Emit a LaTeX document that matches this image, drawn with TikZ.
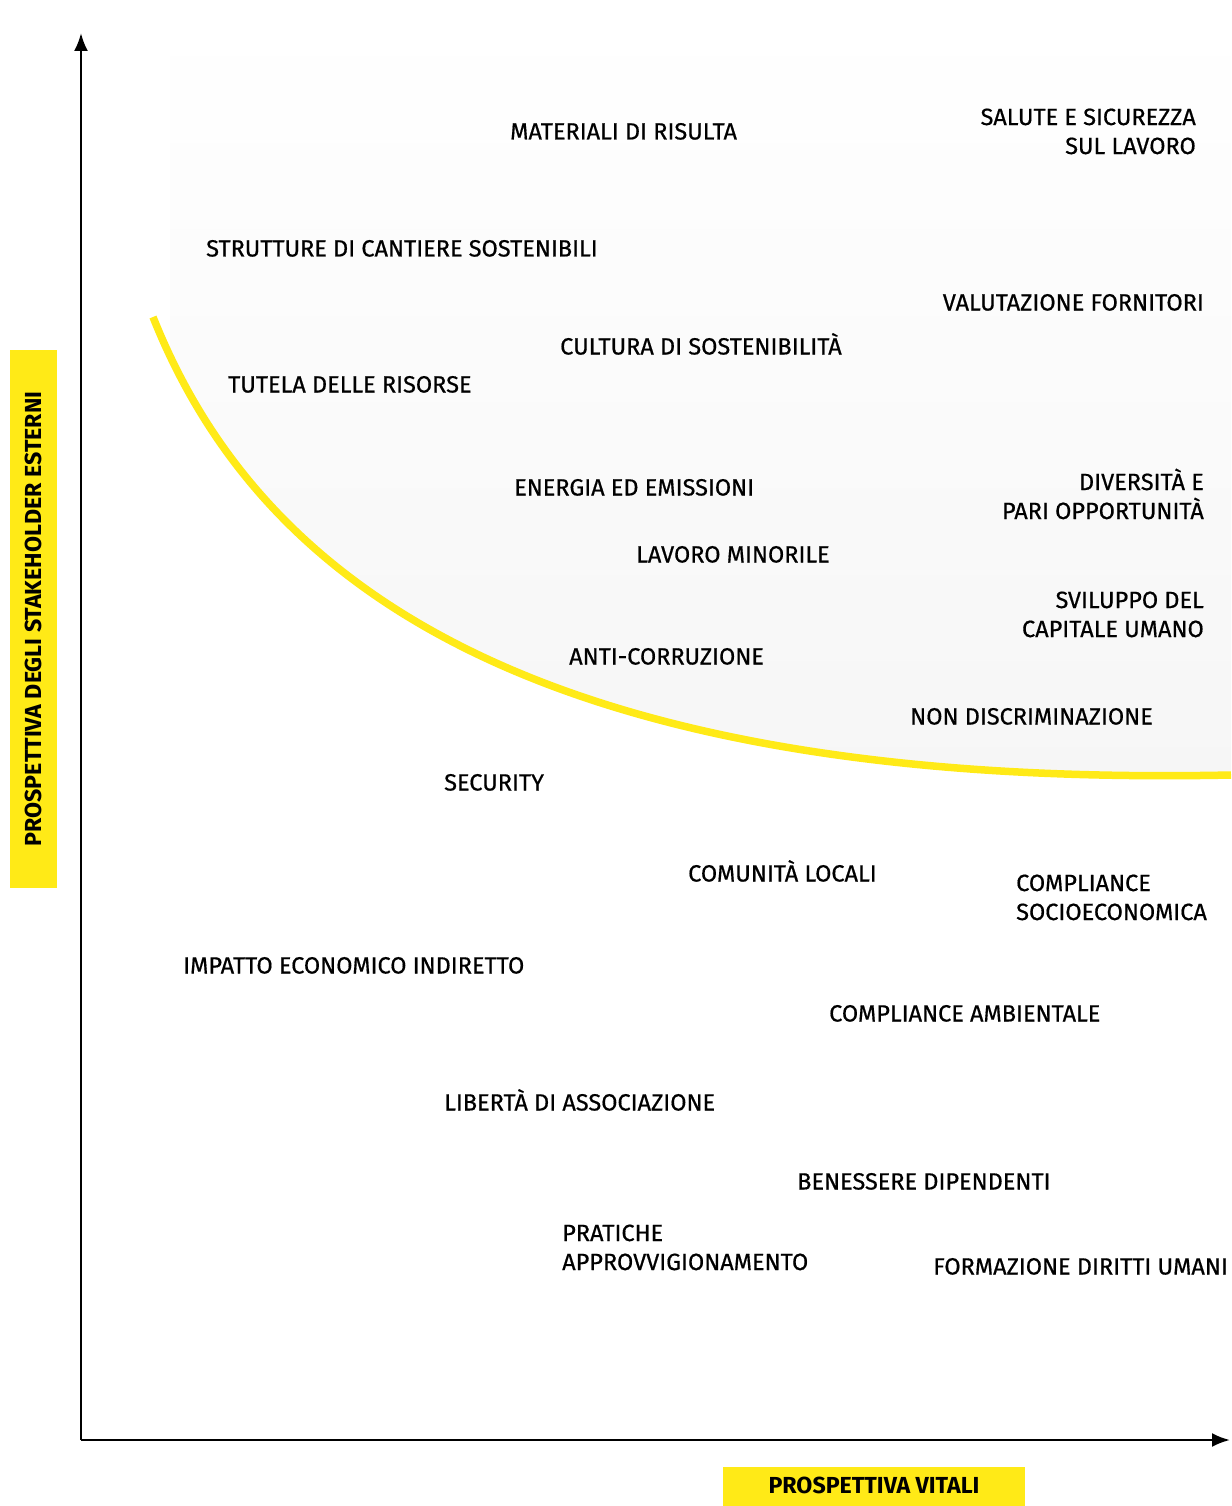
\documentclass[tikz,border=0pt]{standalone}
\usepackage{fontspec}
\setmainfont{Fira Sans}
\newfontfamily\topicfont{Fira Sans}[FakeBold=0.6]
\usetikzlibrary{arrows.meta}
\definecolor{vitaliyellow}{HTML}{FFEA17}
\definecolor{zoneshade}{HTML}{F6F6F6}

\begin{document}
\begin{tikzpicture}[x=1pt, y=-1pt,
    topic/.style={inner sep=0pt, font=\topicfont\fontsize{23.5}{29}\selectfont},
    axislabel/.style={fill=vitaliyellow, inner sep=0pt, font=\bfseries\fontsize{23.2}{26}\selectfont},
    axis/.style={line width=2.5pt, -{Latex[length=18pt,width=14pt]}},
  ]
  \useasboundingbox (0,0) rectangle (1231,1506);

  % zone above the threshold
  \begin{scope}
    \clip (170,0) rectangle (1231,1506);
    \shade[top color=white, bottom color=zoneshade] (153,13) -- (1231,13) -- (1231,775)
      .. controls (500,790) and (250,560) .. (153,317) -- cycle;
  \end{scope}
  \draw[vitaliyellow, line width=7.5pt] (153,317) .. controls (250,560) and (500,790) .. (1231,775);

  % axes
  \coordinate (origin) at (81,1440);
  \coordinate (ytip) at (81,33);
  \coordinate (xtip) at (1230,1440);
  \draw[axis] (origin) -- (ytip);
  \draw[axis] (origin) -- (xtip);

  \node[axislabel, rotate=90, minimum width=538, minimum height=47] (ylabel) at (33.5,619) {PROSPETTIVA DEGLI STAKEHOLDER ESTERNI};
  \node[axislabel, minimum width=302, minimum height=39, text depth=3pt] (xlabel) at (874,1486.5) {PROSPETTIVA VITALI};

  % topics
  \node[topic, anchor=base west] (materiali) at (510,139.5) {MATERIALI DI RISULTA};
  \node[topic, anchor=south east, align=right] (salute) at (1196,154.5) {SALUTE E SICUREZZA\\SUL LAVORO};
  \node[topic, anchor=base west] (strutture) at (206,256.5) {STRUTTURE DI CANTIERE SOSTENIBILI};
  \node[topic, anchor=base east] (fornitori) at (1204,310.5) {VALUTAZIONE FORNITORI};
  \node[topic, anchor=base west] (cultura) at (560,354.5) {CULTURA DI SOSTENIBILITÀ};
  \node[topic, anchor=base west] (risorse) at (228,392.5) {TUTELA DELLE RISORSE};
  \node[topic, anchor=base west] (energia) at (514,495.5) {ENERGIA ED EMISSIONI};
  \node[topic, anchor=south east, align=right] (diversita) at (1204,519.5) {DIVERSITÀ E\\PARI OPPORTUNITÀ};
  \node[topic, anchor=base west] (minorile) at (636,562.5) {LAVORO MINORILE};
  \node[topic, anchor=south east, align=right] (capitale) at (1204,637.5) {SVILUPPO DEL\\CAPITALE UMANO};
  \node[topic, anchor=base west] (corruzione) at (569,664.5) {ANTI-CORRUZIONE};
  \node[topic, anchor=base west] (discriminazione) at (910,724.5) {NON DISCRIMINAZIONE};
  \node[topic, anchor=base west] (security) at (444,790.5) {SECURITY};
  \node[topic, anchor=base west] (comunita) at (688,881.5) {COMUNITÀ LOCALI};
  \node[topic, anchor=south west, align=left] (socioeconomica) at (1016,920.5) {COMPLIANCE\\SOCIOECONOMICA};
  \node[topic, anchor=base west] (impatto) at (183,973.5) {IMPATTO ECONOMICO INDIRETTO};
  \node[topic, anchor=base west] (ambientale) at (829,1021.5) {COMPLIANCE AMBIENTALE};
  \node[topic, anchor=base west] (associazione) at (444,1110.5) {LIBERTÀ DI ASSOCIAZIONE};
  \node[topic, anchor=base west] (benessere) at (797,1189.5) {BENESSERE DIPENDENTI};
  \node[topic, anchor=south west, align=left] (pratiche) at (562,1270.5) {PRATICHE\\APPROVVIGIONAMENTO};
  \node[topic, anchor=base west] (diritti) at (933,1274.5) {FORMAZIONE DIRITTI UMANI};
\end{tikzpicture}
\end{document}
